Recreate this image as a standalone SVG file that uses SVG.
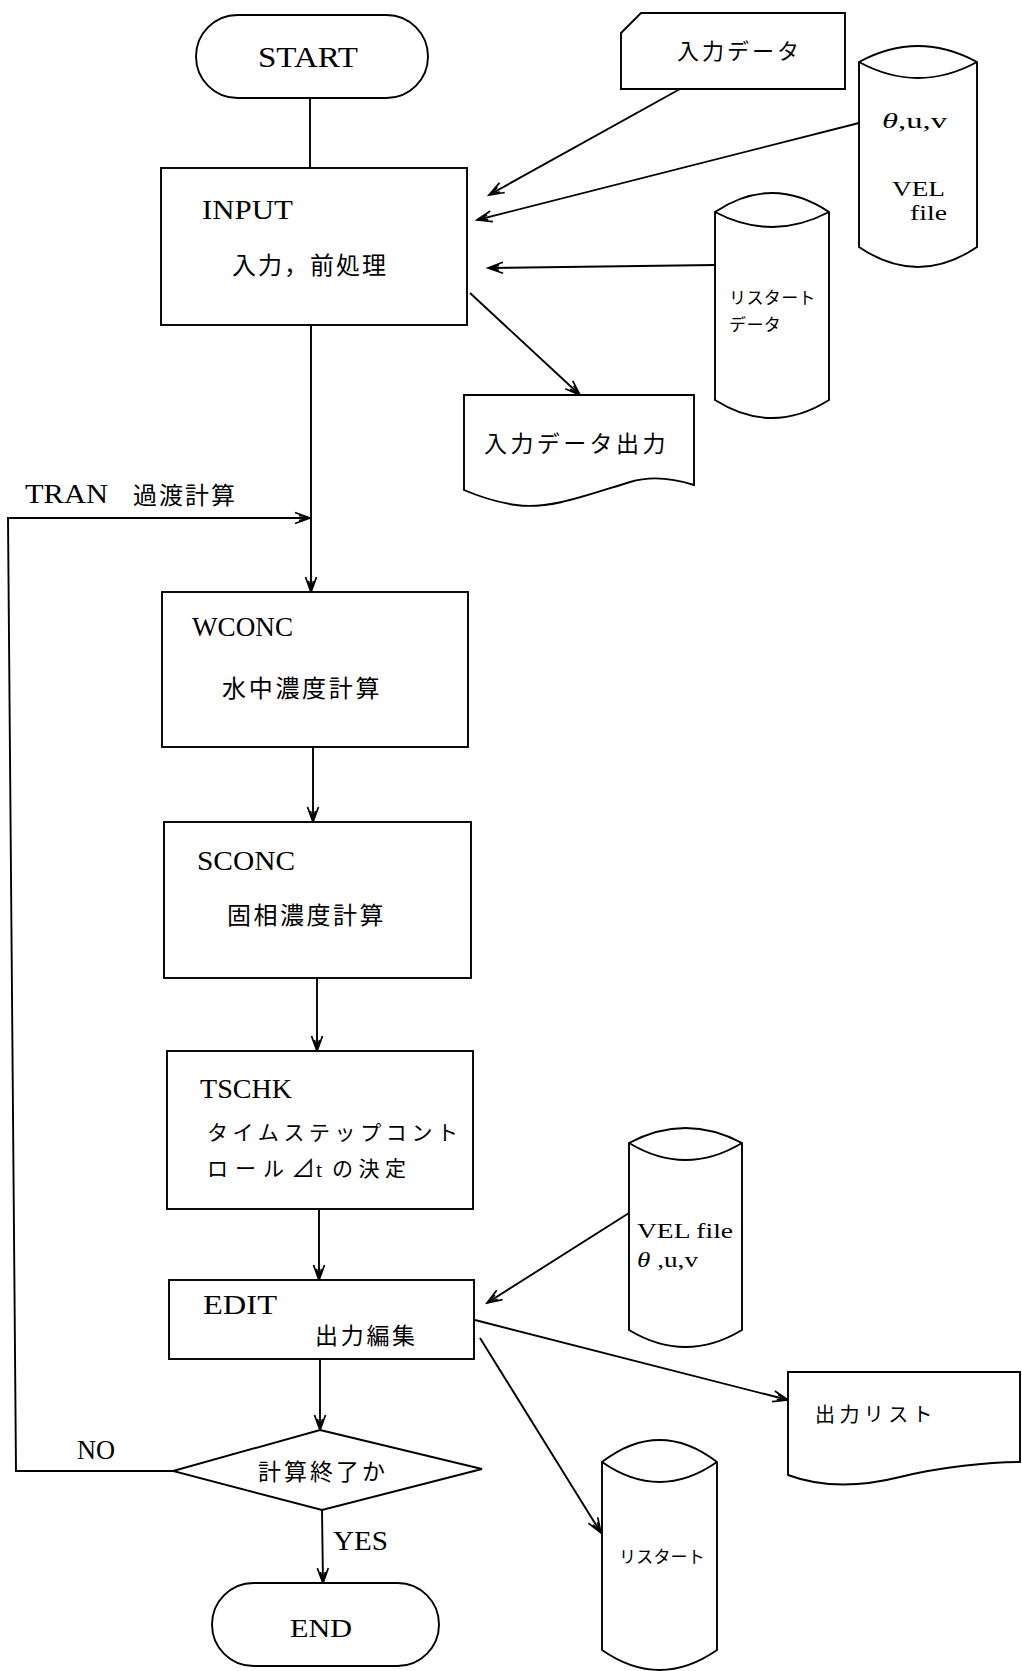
<svg xmlns="http://www.w3.org/2000/svg" width="1022" height="1671" viewBox="0 0 1022 1671">
<style>
.ln{stroke:#000;stroke-width:1.9;fill:none}
.sh{fill:#fff;stroke:#000;stroke-width:1.9}
.lat{font-family:"Liberation Serif","Noto Sans CJK JP",serif;font-size:27px;fill:#000}
.jp{font-family:"Noto Sans CJK JP",sans-serif;font-size:23px;fill:#000}
.it{font-style:italic}
</style>
<defs>
<marker id="ah" markerUnits="userSpaceOnUse" markerWidth="20" markerHeight="14" refX="17" refY="7" orient="auto">
<path d="M2,1.5 L17,7 L2,12.5 M6,4.5 L17,7 L6,9.5" fill="none" stroke="#000" stroke-width="1.7"/>
</marker>
</defs>
<rect width="1022" height="1671" fill="#fff"/>

<g id="connectors">
<line class="ln" x1="310" y1="98" x2="310" y2="168"/>
<line class="ln" x1="311" y1="325" x2="311" y2="592" marker-end="url(#ah)"/>
<polyline class="ln" points="173,1471 16,1471 8,518 310,518" marker-end="url(#ah)"/>
<line class="ln" x1="313" y1="747" x2="313" y2="822" marker-end="url(#ah)"/>
<line class="ln" x1="317" y1="978" x2="317" y2="1051" marker-end="url(#ah)"/>
<line class="ln" x1="319" y1="1209" x2="319" y2="1280" marker-end="url(#ah)"/>
<line class="ln" x1="320" y1="1359" x2="320" y2="1430" marker-end="url(#ah)"/>
<line class="ln" x1="322" y1="1510" x2="323" y2="1583" marker-end="url(#ah)"/>
<line class="ln" x1="680" y1="89" x2="489" y2="195" marker-end="url(#ah)"/>
<line class="ln" x1="859" y1="123" x2="477" y2="220" marker-end="url(#ah)"/>
<line class="ln" x1="715" y1="265" x2="488" y2="268" marker-end="url(#ah)"/>
<line class="ln" x1="470" y1="293" x2="580" y2="395" marker-end="url(#ah)"/>
<line class="ln" x1="629" y1="1213" x2="487" y2="1303" marker-end="url(#ah)"/>
<line class="ln" x1="475" y1="1320" x2="788" y2="1400" marker-end="url(#ah)"/>
<line class="ln" x1="480" y1="1338" x2="601" y2="1533" marker-end="url(#ah)"/>
<text class="lat" x="25" y="503" textLength="83" lengthAdjust="spacingAndGlyphs">TRAN</text>
<text class="jp" x="133" y="504" style="font-size:24px;letter-spacing:2px">過渡計算</text>
<text class="lat" x="77" y="1459" textLength="38" lengthAdjust="spacingAndGlyphs">NO</text>
<text class="lat" x="333" y="1550" textLength="55" lengthAdjust="spacingAndGlyphs">YES</text>
</g>

<g id="start">
<rect class="sh" x="196" y="15" width="232" height="83" rx="41.5" ry="41.5"/>
<text class="lat" x="258" y="67" style="font-size:29px" textLength="100" lengthAdjust="spacingAndGlyphs">START</text>
</g>

<g id="input">
<rect class="sh" x="161" y="168" width="306" height="157"/>
<text class="lat" x="202" y="219" textLength="91" lengthAdjust="spacingAndGlyphs">INPUT</text>
<text class="jp" x="232" y="274" style="font-size:24px;letter-spacing:2px">入力，前処理</text>
</g>

<g id="input-data">
<path class="sh" d="M621,33 L641,13 L845,13 L845,89 L621,89 Z"/>
<text class="jp" x="677" y="59" style="font-size:22px;letter-spacing:3px">入力データ</text>
</g>

<g id="vel-file-in">
<path class="sh" d="M859,62 Q918,30 977,62 L977,247 Q918,287 859,247 Z"/>
<path class="ln" d="M859,62 Q918,94 977,62"/>
<text class="lat" x="882" y="128" style="font-size:21px" textLength="65" lengthAdjust="spacingAndGlyphs"><tspan class="it">θ</tspan>,u,v</text>
<text class="lat" x="892" y="196" style="font-size:22px" textLength="53" lengthAdjust="spacingAndGlyphs">VEL</text>
<text class="lat" x="910" y="220" style="font-size:22px" textLength="37" lengthAdjust="spacingAndGlyphs">file</text>
</g>

<g id="restart-data">
<path class="sh" d="M715,212 Q772,174 829,212 L829,400 Q772,436 715,400 Z"/>
<path class="ln" d="M715,212 Q772,242 829,212"/>
<text class="jp" x="729" y="304" style="font-size:17px;letter-spacing:0.4px">リスタート</text>
<text class="jp" x="729" y="331" style="font-size:17px;letter-spacing:0.4px">データ</text>
</g>

<g id="input-data-output">
<path class="sh" d="M464,395 L694,395 L694,485 C672,478 650,476 630,482 C590,494 550,510 516,505 C495,502 478,496 464,490 Z"/>
<text class="jp" x="484" y="452" style="font-size:23px;letter-spacing:3.4px">入力データ出力</text>
</g>

<g id="wconc">
<rect class="sh" x="162" y="592" width="306" height="155"/>
<text class="lat" x="192" y="636" textLength="101" lengthAdjust="spacingAndGlyphs">WCONC</text>
<text class="jp" x="222" y="697" style="font-size:24px;letter-spacing:2.7px">水中濃度計算</text>
</g>

<g id="sconc">
<rect class="sh" x="164" y="822" width="307" height="156"/>
<text class="lat" x="197" y="870" textLength="98" lengthAdjust="spacingAndGlyphs">SCONC</text>
<text class="jp" x="227" y="924" style="font-size:24px;letter-spacing:2.5px">固相濃度計算</text>
</g>

<g id="tschk">
<rect class="sh" x="167" y="1051" width="306" height="158"/>
<text class="lat" x="200" y="1098" textLength="92" lengthAdjust="spacingAndGlyphs">TSCHK</text>
<text class="jp" x="207" y="1140" style="font-size:21px;letter-spacing:4.6px">タイムステップコント</text>
<text class="jp" x="207" y="1176" style="font-size:21px;letter-spacing:7px">ロール</text>
<text class="jp" x="291" y="1177" style="font-size:24px">⊿<tspan class="lat" x="316" style="font-size:22px">t</tspan></text>
<text class="jp" x="332" y="1176" style="font-size:21px;letter-spacing:5.5px">の決定</text>
</g>

<g id="edit">
<rect class="sh" x="169" y="1280" width="305" height="79"/>
<text class="lat" x="203" y="1314" textLength="74" lengthAdjust="spacingAndGlyphs">EDIT</text>
<text class="jp" x="315" y="1344" style="font-size:23px;letter-spacing:2.7px">出力編集</text>
</g>

<g id="vel-file-out">
<path class="sh" d="M629,1143 Q685.5,1113 742,1143 L742,1330 Q685.5,1364 629,1330 Z"/>
<path class="ln" d="M629,1143 Q685.5,1177 742,1143"/>
<text class="lat" x="637" y="1238" style="font-size:21px" textLength="96" lengthAdjust="spacingAndGlyphs">VEL file</text>
<text class="lat" x="637" y="1267" style="font-size:21px" textLength="61" lengthAdjust="spacingAndGlyphs"><tspan class="it">θ</tspan> ,u,v</text>
</g>

<g id="output-list">
<path class="sh" d="M788,1372 L1020,1372 L1020,1462 C990,1462 940,1467 900,1477 C868,1485 828,1490 788,1475 Z"/>
<text class="jp" x="815" y="1422" style="font-size:20px;letter-spacing:4.4px">出力リスト</text>
</g>

<g id="decision">
<polygon class="sh" points="320,1430 482,1469 322,1510 173,1471"/>
<text class="jp" x="258" y="1480" style="font-size:23px;letter-spacing:3px">計算終了か</text>
</g>

<g id="restart-out">
<path class="sh" d="M602,1462 Q659.5,1418 717,1462 L717,1650 Q659.5,1690 602,1650 Z"/>
<path class="ln" d="M602,1462 Q659.5,1502 717,1462"/>
<text class="jp" x="619" y="1563" style="font-size:17px;letter-spacing:0.2px">リスタート</text>
</g>

<g id="end">
<rect class="sh" x="212" y="1583" width="227" height="83" rx="41.5" ry="41.5"/>
<text class="lat" x="290" y="1637" style="font-size:25px" textLength="62" lengthAdjust="spacingAndGlyphs">END</text>
</g>
</svg>
